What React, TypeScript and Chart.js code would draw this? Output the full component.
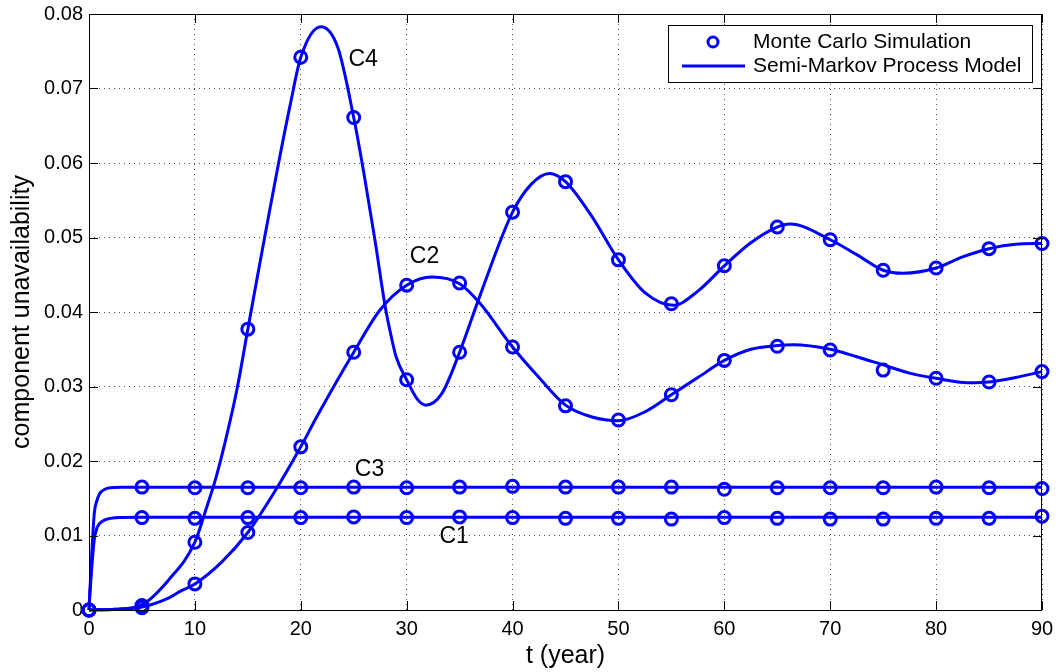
import React, { useEffect, useRef } from "react";
import { Chart, registerables } from "chart.js";

Chart.register(...registerables);

const FONT = "'Liberation Sans', Arial, Helvetica, sans-serif";
const BLUE = "#0000ff";

// Monte Carlo marker times
const tMarkers = [0, 5, 10, 15, 20, 25, 30, 35, 40, 45, 50, 55, 60, 65, 70, 75, 80, 85, 90];
const c1Markers = [0, 0.0124, 0.0123, 0.0124, 0.0124, 0.0125, 0.0124, 0.0125, 0.0124, 0.0123, 0.0123, 0.0122, 0.0124, 0.0123, 0.0122, 0.0122, 0.0123, 0.0123, 0.0126];
const c3Markers = [0, 0.0165, 0.0164, 0.0164, 0.0164, 0.0165, 0.0164, 0.0165, 0.0166, 0.0165, 0.0165, 0.0165, 0.0162, 0.0164, 0.0164, 0.0164, 0.0165, 0.0164, 0.0163];
const c2Markers = [0, 0.0003, 0.0035, 0.0104, 0.0219, 0.0346, 0.0436, 0.0439, 0.0353, 0.0274, 0.0255, 0.0289, 0.0335, 0.0354, 0.0349, 0.0322, 0.0311, 0.0306, 0.032];
const c4Markers = [0, 0.0006, 0.0091, 0.0377, 0.0742, 0.0661, 0.0309, 0.0346, 0.0534, 0.0575, 0.047, 0.0411, 0.0462, 0.0514, 0.0497, 0.0456, 0.0459, 0.0485, 0.0492];

// Semi-Markov model curves
const c1LineT = [0, 0.1, 0.25, 0.5, 0.75, 1, 1.5, 2, 3, 5, 90];
const c1LineV = [0, 0.0025, 0.0055, 0.0095, 0.011, 0.0116, 0.0121, 0.0123, 0.01242, 0.01244, 0.01244];
const c3LineT = [0, 0.1, 0.25, 0.5, 0.75, 1, 1.5, 2, 3, 5, 90];
const c3LineV = [0, 0.003, 0.0072, 0.013, 0.0147, 0.0156, 0.0162, 0.0164, 0.01647, 0.01647, 0.01647];
const c2LineT = [0, 2.5, 5, 7.5, 8.6, 10, 12.5, 15, 17.5, 20, 21.5, 25, 27.5, 30, 32.4, 35, 36.9, 40, 42.5, 45, 47.5, 50, 52.5, 55, 57.5, 60, 62.5, 65, 66.5, 70, 72.5, 75, 77.5, 80, 83, 85, 87.5, 90];
const c2LineV = [0, 0.0001, 0.0004, 0.0016, 0.0025, 0.0035, 0.0064, 0.0104, 0.0158, 0.0219, 0.0259, 0.0346, 0.0403, 0.0436, 0.0447, 0.0438, 0.0412, 0.0353, 0.0312, 0.0275, 0.0259, 0.0254, 0.0266, 0.0289, 0.0312, 0.0335, 0.035, 0.0355, 0.0356, 0.035, 0.034, 0.0329, 0.0318, 0.0311, 0.0305, 0.0306, 0.0312, 0.032];
const c4LineT = [0, 2.5, 5, 7.5, 10, 11, 12, 13, 14, 15, 16, 17, 18, 19, 20, 21.9, 23.5, 25, 26, 27, 28, 28.5, 29, 30, 31, 31.8, 33.3, 35, 36.9, 40, 41.8, 43.5, 45, 47.5, 50, 52.5, 55.2, 57.5, 60, 62.5, 65, 66.2, 70, 72.5, 75, 76.9, 80, 82.5, 85, 87.5, 90];
const c4LineV = [0, 0.0001, 0.0007, 0.004, 0.0091, 0.0133, 0.0178, 0.0234, 0.0298, 0.0377, 0.0455, 0.0532, 0.0607, 0.0678, 0.0742, 0.0783, 0.0755, 0.0661, 0.0583, 0.0497, 0.0405, 0.037, 0.034, 0.0309, 0.0283, 0.0275, 0.029, 0.0346, 0.0421, 0.0534, 0.0572, 0.0586, 0.0575, 0.0528, 0.047, 0.0426, 0.0409, 0.0428, 0.0462, 0.0493, 0.0514, 0.0518, 0.0497, 0.0477, 0.0456, 0.0452, 0.0459, 0.0474, 0.0485, 0.0491, 0.0492];

// curve labels: text, t, value (label left edge, vertical centre)
const curveLabels = [
  { text: "C4", t: 24.5, v: 0.0739 },
  { text: "C2", t: 30.3, v: 0.0474 },
  { text: "C3", t: 25.1, v: 0.0188 },
  { text: "C1", t: 33.1, v: 0.0099 },
];

const legendLabels = ["Monte Carlo Simulation", "Semi-Markov Process Model"];

const zip = (xs: number[], ys: number[]) => xs.map((x, i) => ({ x, y: ys[i] }));

const lineDs = (label: string, t: number[], v: number[]) => ({
  label,
  data: zip(t, v),
  borderColor: BLUE,
  borderWidth: 3,
  pointRadius: 0,
  fill: false,
  cubicInterpolationMode: "monotone" as const,
  clip: false as const,
});

const markerDs = (label: string, v: number[]) => ({
  label,
  data: zip(tMarkers, v),
  showLine: false,
  pointStyle: "circle" as const,
  pointRadius: 6,
  pointBorderWidth: 3,
  pointBorderColor: BLUE,
  pointBackgroundColor: "rgba(0,0,0,0)",
  borderColor: BLUE,
  clip: false as const,
});

const framePlugin = {
  id: "matlabFrame",
  afterDraw(chart: any) {
    const { ctx, chartArea: a, scales } = chart;
    const xs = scales.x;
    const ys = scales.y;
    ctx.save();
    // frame
    ctx.strokeStyle = "#000";
    ctx.lineWidth = 1;
    ctx.strokeRect(a.left + 0.5, a.top + 0.5, a.right - a.left - 1, a.bottom - a.top);
    // inward ticks
    const tl = 9;
    ctx.beginPath();
    xs.ticks.forEach((tk: any) => {
      const px = Math.round(xs.getPixelForValue(tk.value)) + 0.5;
      ctx.moveTo(px, a.bottom);
      ctx.lineTo(px, a.bottom - tl);
      ctx.moveTo(px, a.top);
      ctx.lineTo(px, a.top + tl);
    });
    ys.ticks.forEach((tk: any) => {
      const py = Math.round(ys.getPixelForValue(tk.value)) + 0.5;
      ctx.moveTo(a.left, py);
      ctx.lineTo(a.left + tl, py);
      ctx.moveTo(a.right, py);
      ctx.lineTo(a.right - tl, py);
    });
    ctx.stroke();

    // curve labels
    ctx.fillStyle = "#000";
    ctx.font = `23px ${FONT}`;
    ctx.textAlign = "left";
    ctx.textBaseline = "middle";
    curveLabels.forEach((l) => {
      ctx.fillText(l.text, xs.getPixelForValue(l.t), ys.getPixelForValue(l.v));
    });

    // legend
    const bx = 668, by = 25, bw = 364, bh = 57;
    ctx.fillStyle = "#fff";
    ctx.fillRect(bx, by, bw, bh);
    ctx.strokeStyle = "#000";
    ctx.lineWidth = 1;
    ctx.strokeRect(bx + 0.5, by + 0.5, bw, bh);
    ctx.strokeStyle = BLUE;
    ctx.lineWidth = 3;
    ctx.beginPath();
    ctx.arc(713, 42, 5, 0, Math.PI * 2);
    ctx.stroke();
    ctx.beginPath();
    ctx.moveTo(682, 66);
    ctx.lineTo(745, 66);
    ctx.stroke();
    ctx.fillStyle = "#000";
    ctx.font = `21px ${FONT}`;
    ctx.textBaseline = "middle";
    ctx.fillText(legendLabels[0], 753, 42);
    ctx.fillText(legendLabels[1], 753, 66);
    ctx.restore();
  },
};

export default function App() {
  const ref = useRef<HTMLCanvasElement | null>(null);
  useEffect(() => {
    document.body.style.margin = "0";
    const canvas = ref.current;
    if (!canvas) return;
    const chart = new Chart(canvas, {
      type: "line",
      data: {
        datasets: [
          lineDs("C1 model", c1LineT, c1LineV),
          lineDs("C3 model", c3LineT, c3LineV),
          lineDs("C2 model", c2LineT, c2LineV),
          lineDs("C4 model", c4LineT, c4LineV),
          markerDs("C1 MC", c1Markers),
          markerDs("C3 MC", c3Markers),
          markerDs("C2 MC", c2Markers),
          markerDs("C4 MC", c4Markers),
        ] as any,
      },
      options: {
        responsive: false,
        animation: false,
        devicePixelRatio: 1,
        layout: { padding: { top: 14, right: 14, left: 0, bottom: 0 } },
        plugins: { legend: { display: false }, tooltip: { enabled: false } },
        scales: {
          x: {
            type: "linear",
            min: 0,
            max: 90,
            ticks: { stepSize: 10, color: "#000", font: { family: FONT, size: 20 }, padding: 7, maxRotation: 0 },
            grid: { color: "#555", lineWidth: 1, drawTicks: false },
            border: { display: false, dash: [1, 4] },
            title: { display: true, text: "t (year)", color: "#000", font: { family: FONT, size: 25 }, padding: { top: 0, bottom: 1 } },
            afterFit: (s: any) => { s.height = 62; s.paddingLeft = 0; s.paddingRight = 0; },
          },
          y: {
            type: "linear",
            min: 0,
            max: 0.08,
            ticks: {
              stepSize: 0.01,
              color: "#000",
              font: { family: FONT, size: 20 },
              padding: 6,
              callback: (v: any) => (Math.abs(v) < 1e-9 ? "0" : Number(v).toFixed(2)),
            },
            grid: { color: "#555", lineWidth: 1, drawTicks: false },
            border: { display: false, dash: [1, 4] },
            title: { display: true, text: "component unavailability", color: "#000", font: { family: FONT, size: 25 }, padding: { top: 7, bottom: 0 } },
            afterFit: (s: any) => { s.width = 89; s.paddingTop = 0; s.paddingBottom = 0; },
          },
        },
      } as any,
      plugins: [framePlugin],
    });
    return () => chart.destroy();
  }, []);
  return (
    <div style={{ width: 1056, height: 672 }}>
      <canvas ref={ref} width={1056} height={672} style={{ display: "block" }} />
    </div>
  );
}
